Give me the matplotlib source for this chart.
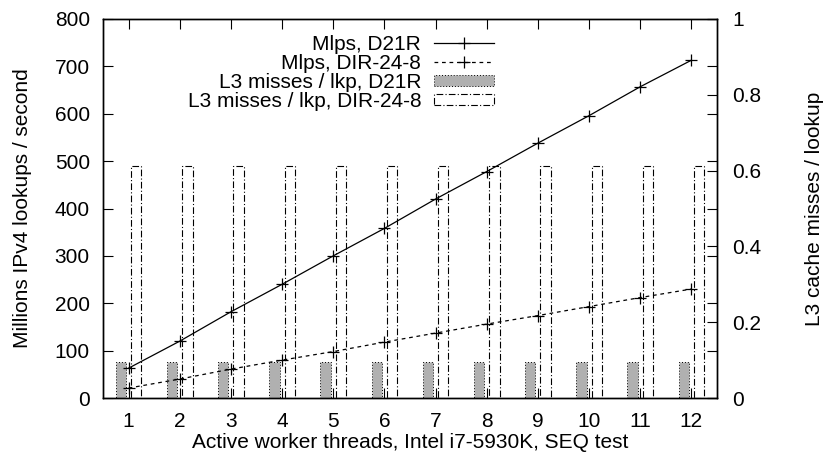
import numpy as np
import matplotlib
matplotlib.use("Agg")
import matplotlib.pyplot as plt

plt.rcParams['font.family'] = ['Liberation Sans', 'DejaVu Sans']

# data
threads = np.arange(1, 13)
mlps_d21r = [63, 120, 182, 240, 300, 358, 420, 478, 538, 596, 657, 713]
mlps_dir248 = [21, 40, 61, 80, 98, 118, 137, 156, 174, 193, 212, 230]
l3_d21r = [0.096] * 12
l3_dir248 = [0.613] * 12

fs = 15

fig = plt.figure(figsize=(8.29, 4.63), dpi=100)
ax = fig.add_axes([103/829, 1 - 398/463, (717 - 103)/829, (398 - 19)/463])
ax2 = ax.twinx()

# bars on the right axis
bw = 0.2
b1 = ax2.bar(threads - 0.15, l3_d21r, width=bw, facecolor='#b0b0b0',
             edgecolor='black', linewidth=0.7, linestyle=(0, (1, 2)))
b2 = ax2.bar(threads + 0.15, l3_dir248, width=bw, facecolor='none',
             edgecolor='black', linewidth=0.8, linestyle=(0, (6, 2, 1, 2)))

l1, = ax.plot(threads, mlps_d21r, color='black', lw=0.9, marker='+',
              ms=8, mew=0.9)
l2, = ax.plot(threads, mlps_dir248, color='black', lw=0.9, marker='+',
              ms=8, mew=0.9, dashes=(3, 3))

ax.set_zorder(ax2.get_zorder() + 1)
ax.patch.set_visible(False)

ax.set_xlim(0.5, 12.5)
ax.set_ylim(0, 800)
ax2.set_ylim(0, 1)
ax.set_xticks(threads)
ax.set_yticks(np.arange(0, 801, 100))
ax2.set_yticks([0, 0.2, 0.4, 0.6, 0.8, 1])
ax2.set_yticklabels(['0', '0.2', '0.4', '0.6', '0.8', '1'])

ax.tick_params(direction='in', length=7, width=0.8, top=True, right=True,
               labelsize=fs, pad=9.5)
ax.tick_params(axis='x', pad=10)
ax2.tick_params(direction='in', length=7, width=0.8, labelsize=fs, pad=11)
for a in (ax, ax2):
    for s in a.spines.values():
        s.set_linewidth(1.0)

ax.set_xlabel('Active worker threads, Intel i7-5930K, SEQ test', fontsize=fs)
ax.set_ylabel('Millions IPv4 lookups / second', fontsize=fs)
ax2.set_ylabel('L3 cache misses / lookup', fontsize=fs)
ax.xaxis.set_label_coords(0.5, (398 - 442) / 379)
ax.xaxis.label.set_verticalalignment('center')
ax.yaxis.set_label_coords((23 - 103) / 614, 0.5)
ax.yaxis.label.set_verticalalignment('center')
ax2.yaxis.set_label_coords((815 - 103) / 614, 0.5)
ax2.yaxis.label.set_verticalalignment('center')

ax.legend([l1, l2, b1, b2],
          ['Mlps, D21R', 'Mlps, DIR-24-8', 'L3 misses / lkp, D21R',
           'L3 misses / lkp, DIR-24-8'],
          loc='upper right', bbox_to_anchor=(528/829, 1 - 19/463),
          frameon=False, markerfirst=False, fontsize=fs, handlelength=2.9,
          handleheight=0.45, labelspacing=0.0, handletextpad=0.6,
          borderaxespad=0, borderpad=0)

fig.savefig('out.png', dpi=100)
